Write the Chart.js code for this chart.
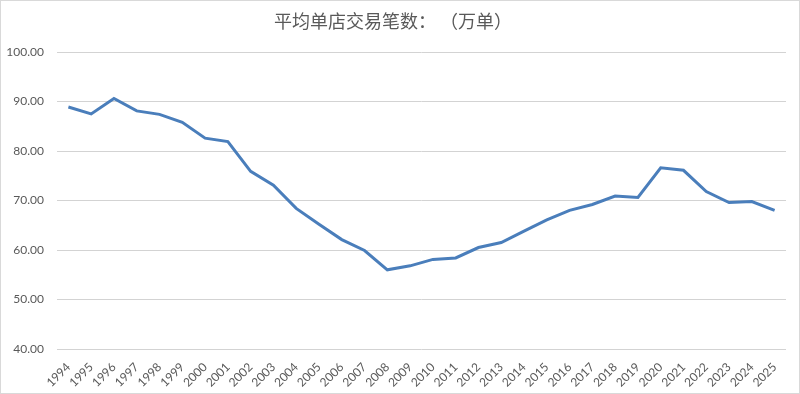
<!DOCTYPE html>
<html>
<head>
<meta charset="utf-8">
<script src="https://cdn.jsdelivr.net/npm/chart.js@4"></script>
<style>
  html, body { margin: 0; padding: 0; background: #fff; }
  #wrap { width: 800px; height: 394px; position: relative; }
</style>
</head>
<body>
<div id="wrap"><canvas id="tradeChart"></canvas></div>
<script>
const years = ['1994','1995','1996','1997','1998','1999','2000','2001','2002','2003',
  '2004','2005','2006','2007','2008','2009','2010','2011','2012','2013','2014','2015',
  '2016','2017','2018','2019','2020','2021','2022','2023','2024','2025'];
const avgTrades = [88.9, 87.5, 90.6, 88.1, 87.4, 85.8, 82.6, 81.9, 75.9, 73.1,
  68.4, 65.2, 62.1, 59.9, 56.0, 56.8, 58.1, 58.4, 60.5, 61.5, 63.8, 66.1,
  68.0, 69.2, 70.9, 70.6, 76.6, 76.1, 71.8, 69.6, 69.8, 68.0];
const yMin = 40;
const yMax = 100;
const yStep = 10;
const titleText = '平均单店交易笔数： （万单）';

// thin grey frame round the picture
const framePlugin = {
  id: 'frame',
  afterDraw(chart) {
    const ctx = chart.ctx;
    ctx.save();
    ctx.strokeStyle = '#d9d9d9';
    ctx.lineWidth = 1;
    ctx.strokeRect(0.5, 0.5, chart.width - 1, chart.height - 1);
    ctx.restore();
  }
};

const ctx = document.getElementById('tradeChart').getContext('2d');
new Chart(ctx, {
  type: 'line',
  data: {
    labels: years,
    datasets: [{
      label: '平均单店交易笔数',
      data: avgTrades,
      borderColor: '#4a7ebb',
      borderWidth: 3,
      pointRadius: 0,
      tension: 0,
      fill: false
    }]
  },
  options: {
    responsive: true,
    maintainAspectRatio: false,
    animation: false,
    layout: { padding: { left: 0, right: 14, top: 0, bottom: 1 } },
    plugins: {
      legend: { display: false },
      tooltip: { enabled: false },
      title: {
        display: true,
        text: titleText,
        color: '#595959',
        font: { family: '"Noto Sans CJK SC", sans-serif', size: 18, weight: 'normal' },
        padding: { top: 10, bottom: 20.4 }
      }
    },
    scales: {
      x: {
        offset: true,
        grid: { display: false },
        border: { display: false },
        ticks: {
          color: '#595959',
          font: { family: 'Lato, "Liberation Sans", sans-serif', size: 12 },
          minRotation: 45,
          maxRotation: 45,
          autoSkip: false,
          padding: 3
        },
        afterFit(scale) { scale.height = 44; }
      },
      y: {
        min: yMin,
        max: yMax,
        grid: { color: '#d3d3d3', drawTicks: false },
        border: { display: false },
        ticks: {
          stepSize: yStep,
          color: '#595959',
          font: { family: 'Lato, "Liberation Sans", sans-serif', size: 12 },
          padding: 13,
          callback: v => v.toFixed(2)
        },
        afterFit(scale) { scale.width = 57; }
      }
    }
  },
  plugins: [framePlugin]
});
</script>
</body>
</html>
